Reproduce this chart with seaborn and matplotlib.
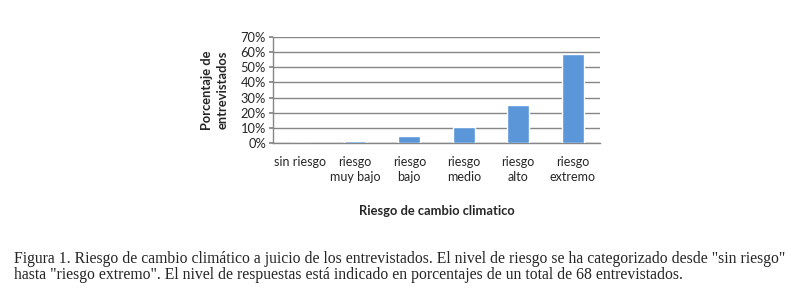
import matplotlib
matplotlib.use("Agg")
import matplotlib.pyplot as plt
import seaborn as sns
import pandas as pd
from matplotlib.ticker import PercentFormatter

categories = ["sin riesgo", "riesgo\nmuy bajo", "riesgo\nbajo", "riesgo\nmedio", "riesgo\nalto", "riesgo\nextremo"]
values = [0.0, 0.0147, 0.0441, 0.1029, 0.25, 0.5882]
yticks = [0.0, 0.1, 0.2, 0.3, 0.4, 0.5, 0.6, 0.7]

sns.set_theme(style="white")
plt.rcParams['font.family'] = ['Lato', 'DejaVu Sans']

df = pd.DataFrame({"cat": categories, "val": values})

fig = plt.figure(figsize=(7.96, 2.96), dpi=100)
ax = fig.add_axes([273/796, 1-143/296, (600-273)/796, (143-37)/296])

sns.barplot(data=df, x="cat", y="val", color="#5A96D8", width=0.4,
            saturation=1, ax=ax, zorder=3)

ax.set_ylim(0, 0.7)
ax.set_yticks(yticks)
ax.yaxis.set_major_formatter(PercentFormatter(1.0, decimals=0))
ax.grid(axis="y", color="#868686", linewidth=1.0, zorder=0)
ax.set_axisbelow(True)
for s in ["top", "right"]:
    ax.spines[s].set_visible(False)
for s in ["left", "bottom"]:
    ax.spines[s].set_color("#868686")
    ax.spines[s].set_linewidth(1.0)
ax.tick_params(axis="y", length=3, color="#868686", labelsize=9.3, pad=2, left=True)
ax.tick_params(axis="x", length=0, labelsize=9, pad=9)
ax.set_ylabel("Porcentaje de\nentrevistados", fontsize=9.3, fontweight="bold", labelpad=9, linespacing=1.3)
ax.set_xlabel("Riesgo de cambio climatico", fontsize=9.3, fontweight="bold", labelpad=16)
for t in ax.get_xticklabels():
    t.set_linespacing(1.35)

caption = ("Figura 1. Riesgo de cambio climático a juicio de los entrevistados. El nivel de riesgo se ha categorizado desde \"sin riesgo\"\n"
           "hasta \"riesgo extremo\". El nivel de respuestas está indicado en porcentajes de un total de 68 entrevistados.")
fig.text(14/796, 1-251/296, caption, family=["Liberation Serif", "DejaVu Serif"], fontsize=11.3,
         va="top", ha="left", linespacing=1.0)

fig.savefig("out.png", dpi=100, facecolor="white")
